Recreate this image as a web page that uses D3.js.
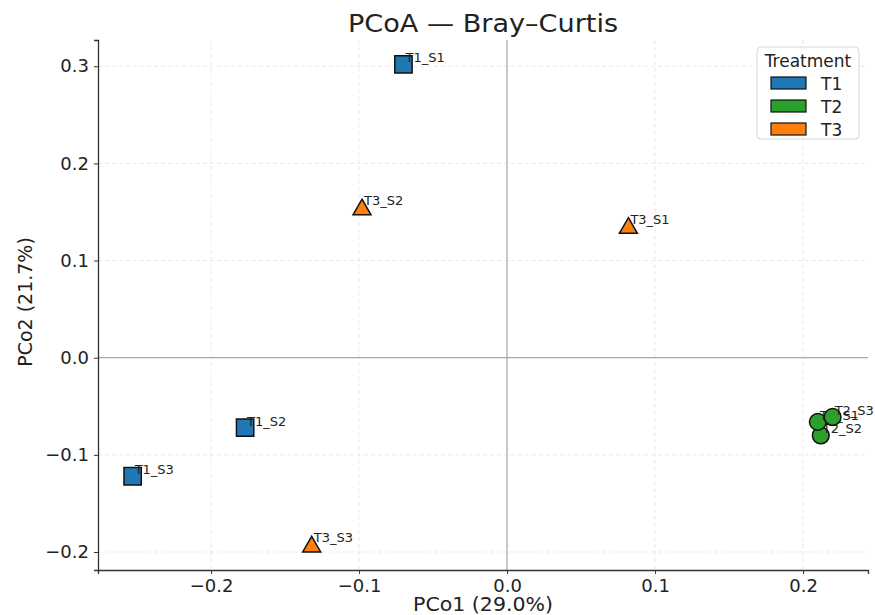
<!DOCTYPE html>
<html>
<head>
<meta charset="utf-8">
<script src="https://cdn.jsdelivr.net/npm/d3@7"></script>
<style>
  body { margin: 0; background: #fff; }
  svg text { font-family: "DejaVu Sans", sans-serif; }
</style>
</head>
<body>
<svg id="chart" width="875" height="615"></svg>
<script>
// ---- data ----
const samples = ["T1_S1", "T1_S2", "T1_S3", "T2_S2", "T2_S1", "T2_S3", "T3_S1", "T3_S2", "T3_S3"];
const treatments = ["T1", "T1", "T1", "T2", "T2", "T2", "T3", "T3", "T3"];
const pco1 = [-0.070, -0.177, -0.253, 0.212, 0.210, 0.220, 0.082, -0.098, -0.132];
const pco2 = [0.302, -0.072, -0.122, -0.080, -0.066, -0.061, 0.136, 0.155, -0.192];
const groups = ["T1", "T2", "T3"];
const groupColors = ["#1f77b4", "#2ca02c", "#ff7f0e"];
const groupShapes = ["square", "circle", "triangle"];
const xTicks = [-0.2, -0.1, 0.0, 0.1, 0.2];
const yTicks = [-0.2, -0.1, 0.0, 0.1, 0.2, 0.3];
const titleText = "PCoA — Bray–Curtis";
const xLabel = "PCo1 (29.0%)";
const yLabel = "PCo2 (21.7%)";
const legendTitle = "Treatment";

// ---- layout ----
const svg = d3.select("#chart");
const m = { left: 98, right: 868, top: 40, bottom: 570 };
const x = d3.scaleLinear().domain([-0.2764, 0.2439]).range([m.left, m.right]);
const y = d3.scaleLinear().domain([-0.2185, 0.327]).range([m.bottom, m.top]);

const color = d3.scaleOrdinal().domain(groups).range(groupColors);
const shapeOf = d3.scaleOrdinal().domain(groups).range(groupShapes);

// grid
const grid = svg.append("g");
grid.selectAll(".gx").data(xTicks).join("line")
  .attr("x1", d => x(d)).attr("x2", d => x(d))
  .attr("y1", m.top).attr("y2", m.bottom)
  .attr("stroke", "#e3e3e3").attr("stroke-width", 0.8).attr("stroke-dasharray", "4,3");
grid.selectAll(".gy").data(yTicks).join("line")
  .attr("x1", m.left).attr("x2", m.right)
  .attr("y1", d => y(d)).attr("y2", d => y(d))
  .attr("stroke", "#e3e3e3").attr("stroke-width", 0.8).attr("stroke-dasharray", "4,3");

// zero lines
svg.append("line").attr("x1", x(0)).attr("x2", x(0)).attr("y1", m.top).attr("y2", m.bottom)
  .attr("stroke", "#a9a9a9").attr("stroke-width", 1.2);
svg.append("line").attr("x1", m.left).attr("x2", m.right).attr("y1", y(0)).attr("y2", y(0))
  .attr("stroke", "#a9a9a9").attr("stroke-width", 1.2);

// axes
const fmt = d => d3.format(".1f")(d).replace("-", "\u2212");
const xAxis = svg.append("g").attr("transform", `translate(0,${m.bottom})`)
  .call(d3.axisBottom(x).tickValues(xTicks).tickSize(4).tickPadding(5).tickFormat(fmt));
const yAxis = svg.append("g").attr("transform", `translate(${m.left},0)`)
  .call(d3.axisLeft(y).tickValues(yTicks).tickSize(4).tickPadding(5).tickFormat(fmt));
[xAxis, yAxis].forEach(a => {
  a.select(".domain").attr("stroke", "#333").attr("stroke-width", 1.3);
  a.selectAll(".tick line").attr("stroke", "#333").attr("stroke-width", 1);
  a.selectAll(".tick text").attr("font-size", 18).attr("fill", "#222")
    .style("font-family", "DejaVu Sans, sans-serif");
});

// points + labels (marker then label, in order)
const data = samples.map((s, i) => ({ s, g: treatments[i], px: pco1[i], py: pco2[i] }));
const symType = { square: d3.symbolSquare, circle: d3.symbolCircle, triangle: d3.symbolTriangle };
const symSize = { square: 300, circle: 220, triangle: 140 };
const pts = svg.append("g").selectAll("g").data(data).join("g");
pts.append("path")
  .attr("transform", d => {
    const sh = shapeOf(d.g);
    const dy = sh === "triangle" ? 2.5 : 0;
    return `translate(${x(d.px)},${y(d.py) + dy})`;
  })
  .attr("d", d => d3.symbol().type(symType[shapeOf(d.g)]).size(symSize[shapeOf(d.g)])())
  .attr("fill", d => color(d.g))
  .attr("stroke", "#111").attr("stroke-width", 1.5);
pts.append("text")
  .attr("x", d => x(d.px) + 2)
  .attr("y", d => y(d.py) - 2)
  .attr("font-size", 13)
  .attr("fill", "#222")
  .text(d => d.s);

// title & axis labels
svg.append("text").attr("transform", "translate(483,32) scale(1.13,1)").attr("text-anchor", "middle")
  .attr("font-size", 24).attr("fill", "#222").text(titleText);
svg.append("text").attr("transform", "translate(483,611) scale(1.08,1)").attr("text-anchor", "middle")
  .attr("font-size", 19).attr("fill", "#222").text(xLabel);
svg.append("text").attr("transform", `translate(32,${(m.top + m.bottom) / 2 - 3}) rotate(-90)`)
  .attr("text-anchor", "middle").attr("font-size", 19).attr("fill", "#222").text(yLabel);

// legend
const lg = svg.append("g").attr("transform", "translate(757,47)");
lg.append("rect").attr("width", 102).attr("height", 92).attr("rx", 4)
  .attr("fill", "#fff").attr("fill-opacity", 0.85).attr("stroke", "#d8d8d8").attr("stroke-width", 1);
lg.append("text").attr("x", 51).attr("y", 20).attr("text-anchor", "middle")
  .attr("font-size", 17).attr("fill", "#222").text(legendTitle);
groups.forEach((g, i) => {
  lg.append("rect").attr("x", 14).attr("y", 30 + i * 23).attr("width", 35).attr("height", 12)
    .attr("fill", color(g)).attr("stroke", "#111").attr("stroke-width", 1.2);
  lg.append("text").attr("x", 64).attr("y", 43 + i * 23).attr("font-size", 17)
    .attr("fill", "#222").text(g);
});
</script>
</body>
</html>
